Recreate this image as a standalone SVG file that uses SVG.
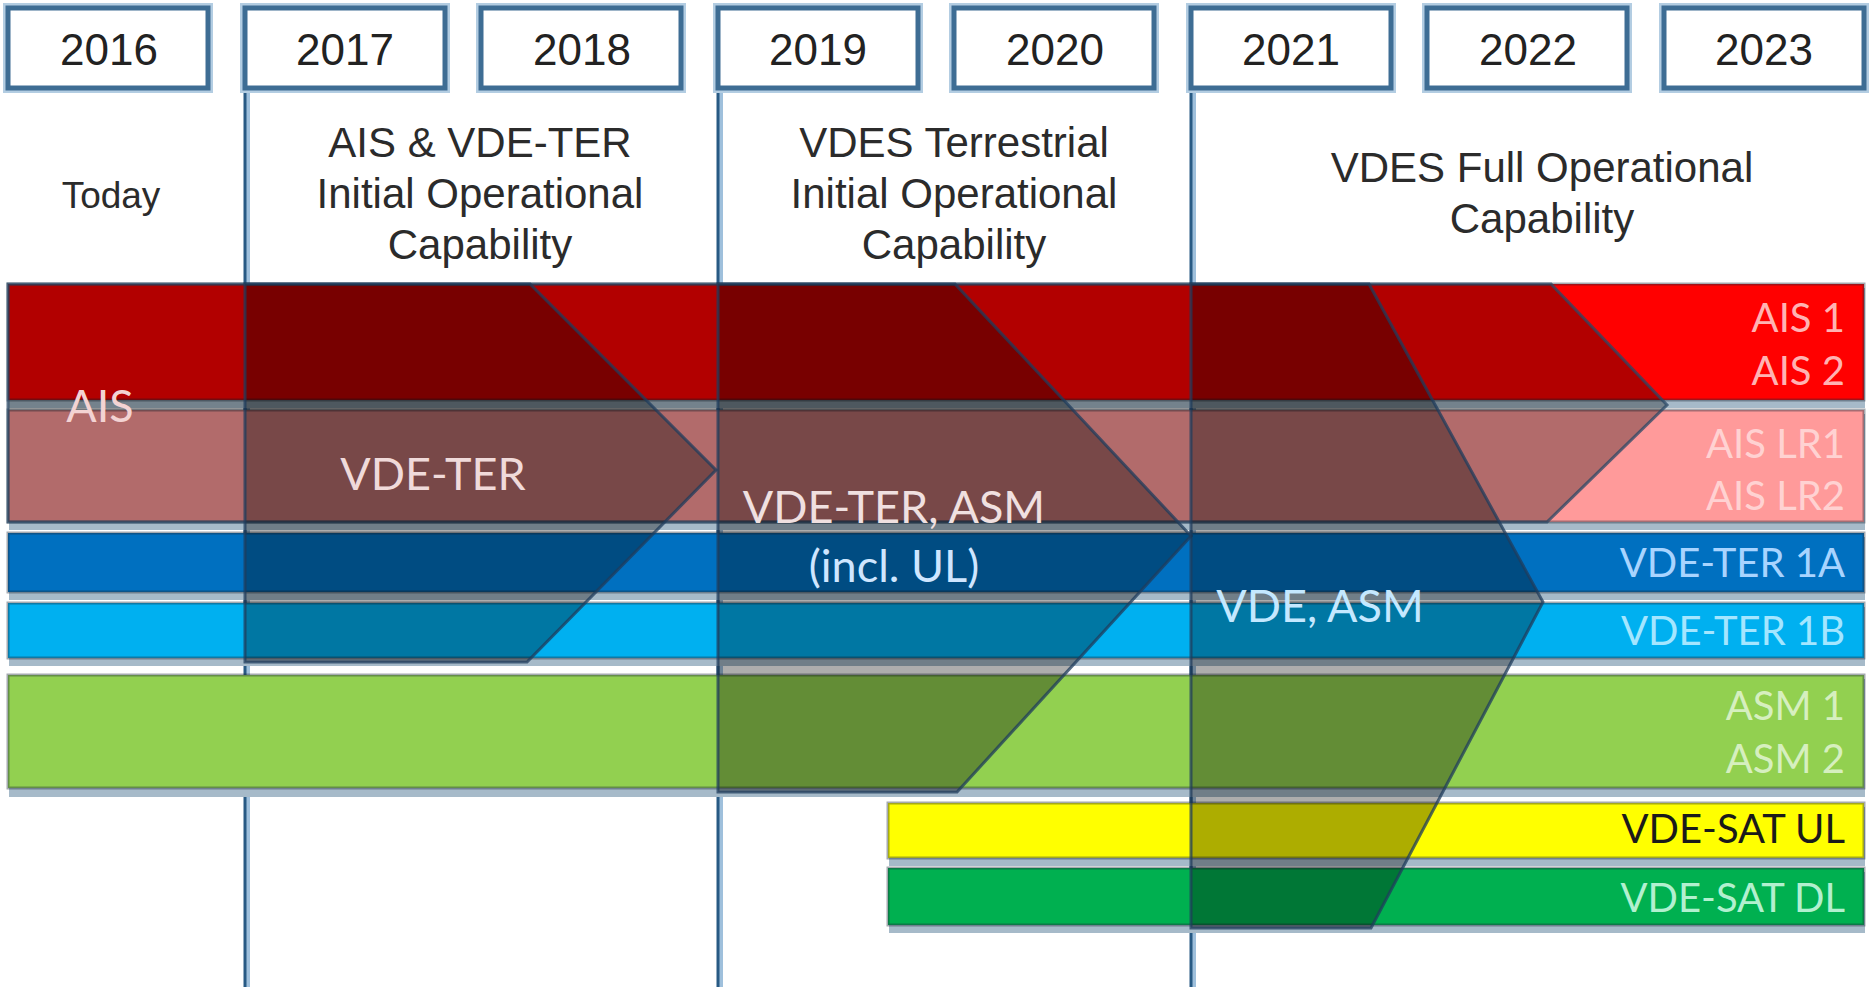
<svg xmlns="http://www.w3.org/2000/svg" width="1870" height="987" viewBox="0 0 1870 987">
  <style>
    .yearbox-halo { fill: none; stroke: #b3cde2; stroke-width: 10; }
    .yearbox { fill: #ffffff; stroke: #3e6d94; stroke-width: 5; }
    .year { font-family: "Liberation Sans", Arial, sans-serif; font-size: 44px; fill: #222222; text-anchor: middle; }
    .phase { font-family: "Liberation Sans", Arial, sans-serif; font-size: 42px; fill: #2b2b2b; text-anchor: middle; }
    .shadow { fill: #a6bac9; }
    .band { stroke: #1e2a3a; stroke-opacity: 0.4; stroke-width: 3; }
    .ais-zone { fill: #000000; fill-opacity: 0.3; stroke: #2a4866; stroke-opacity: 0.75; stroke-width: 3; }
    .chevron { fill: #000000; fill-opacity: 0.32; stroke: #1f3c5c; stroke-opacity: 0.75; stroke-width: 3; }
    .vline-hi { stroke: #9fc0dc; stroke-width: 6; }
    .vline { stroke: #285a84; stroke-width: 3; }
    .stage { font-family: Lato, "Noto Sans", sans-serif; font-size: 45px; text-anchor: middle; }
    .lane { font-family: Lato, "Noto Sans", sans-serif; font-size: 40px; text-anchor: end; }
  </style>

  <rect width="1870" height="987" fill="#ffffff"/>

  <!-- phase boundary lines (behind the lanes) -->
  <g id="boundaries">
    <line class="vline-hi" x1="247" y1="90" x2="247" y2="987"/>
    <line class="vline" x1="245" y1="90" x2="245" y2="987"/>
    <line class="vline-hi" x1="720" y1="90" x2="720" y2="987"/>
    <line class="vline" x1="718" y1="90" x2="718" y2="987"/>
    <line class="vline-hi" x1="1193" y1="90" x2="1193" y2="987"/>
    <line class="vline" x1="1191" y1="90" x2="1191" y2="987"/>
  </g>

  <!-- year header -->
  <g id="years">
    <g id="y2016"><rect class="yearbox-halo" x="8" y="8" width="200" height="80"/><rect class="yearbox" x="8" y="8" width="200" height="80"/><text class="year" x="109" y="65">2016</text></g>
    <g id="y2017"><rect class="yearbox-halo" x="245" y="8" width="200" height="80"/><rect class="yearbox" x="245" y="8" width="200" height="80"/><text class="year" x="345" y="65">2017</text></g>
    <g id="y2018"><rect class="yearbox-halo" x="481" y="8" width="200" height="80"/><rect class="yearbox" x="481" y="8" width="200" height="80"/><text class="year" x="582" y="65">2018</text></g>
    <g id="y2019"><rect class="yearbox-halo" x="718" y="8" width="200" height="80"/><rect class="yearbox" x="718" y="8" width="200" height="80"/><text class="year" x="818" y="65">2019</text></g>
    <g id="y2020"><rect class="yearbox-halo" x="954" y="8" width="200" height="80"/><rect class="yearbox" x="954" y="8" width="200" height="80"/><text class="year" x="1055" y="65">2020</text></g>
    <g id="y2021"><rect class="yearbox-halo" x="1191" y="8" width="200" height="80"/><rect class="yearbox" x="1191" y="8" width="200" height="80"/><text class="year" x="1291" y="65">2021</text></g>
    <g id="y2022"><rect class="yearbox-halo" x="1427" y="8" width="200" height="80"/><rect class="yearbox" x="1427" y="8" width="200" height="80"/><text class="year" x="1528" y="65">2022</text></g>
    <g id="y2023"><rect class="yearbox-halo" x="1664" y="8" width="200" height="80"/><rect class="yearbox" x="1664" y="8" width="200" height="80"/><text class="year" x="1764" y="65">2023</text></g>
  </g>

  <!-- phase titles -->
  <g id="phases">
    <text class="phase" x="111" y="208" style="font-size:37px">Today</text>
    <text class="phase" x="480" y="157">AIS &amp; VDE-TER</text>
    <text class="phase" x="480" y="208">Initial  Operational</text>
    <text class="phase" x="480" y="259">Capability</text>
    <text class="phase" x="954" y="157">VDES Terrestrial</text>
    <text class="phase" x="954" y="208">Initial  Operational</text>
    <text class="phase" x="954" y="259">Capability</text>
    <text class="phase" x="1542" y="182">VDES Full Operational</text>
    <text class="phase" x="1542" y="233">Capability</text>
  </g>

  <!-- channel lanes -->
  <g id="lanes">
    <rect class="shadow" x="9" y="288" width="1856" height="120"/>
    <rect class="shadow" x="9" y="414" width="1856" height="116"/>
    <rect class="shadow" x="9" y="537" width="1856" height="63"/>
    <rect class="shadow" x="9" y="607" width="1856" height="59"/>
    <rect class="shadow" x="9" y="679" width="1856" height="118"/>
    <rect class="shadow" x="889" y="807" width="976" height="59"/>
    <rect class="shadow" x="889" y="872" width="976" height="61"/>
    <rect id="lane-ais" class="band" x="8" y="284" width="1856" height="116" fill="#ff0000"/>
    <rect id="lane-aislr" class="band" x="8" y="410" width="1856" height="112" fill="#ff9a9a"/>
    <rect id="lane-vdeter1a" class="band" x="8" y="533" width="1856" height="59" fill="#0070c0"/>
    <rect id="lane-vdeter1b" class="band" x="8" y="603" width="1856" height="55" fill="#00b0f0"/>
    <rect id="lane-asm" class="band" x="8" y="675" width="1856" height="113" fill="#92d050"/>
    <rect id="lane-satul" class="band" x="888" y="803" width="976" height="55" fill="#ffff00"/>
    <rect id="lane-satdl" class="band" x="888" y="868" width="976" height="57" fill="#00b050"/>
  </g>

  <!-- stage arrows -->
  <g id="stages">
    <polygon id="stage-ais" class="ais-zone" points="8,284 1551,284 1667,405 1547,522 8,522"/>
    <polygon id="stage-vdeter" class="chevron" points="245,284 530,284 716,470 527,662 245,662"/>
    <polygon id="stage-vdeter-asm" class="chevron" points="718,284 955,284 1191,536 957,792 718,792"/>
    <polygon id="stage-vde-asm" class="chevron" points="1191,284 1369,284 1543,602 1371,928 1191,928"/>
  </g>

  <!-- stage labels -->
  <g id="stage-labels">
    <text class="stage" x="100" y="422" fill="#f3d3d3">AIS</text>
    <text class="stage" x="433" y="490" fill="#f0dada">VDE-TER</text>
    <text class="stage" x="894" y="523" fill="#f0e0e0">VDE-TER, ASM</text>
    <text class="stage" x="894" y="582" fill="#cfe6ff">(incl. UL)</text>
    <text class="stage" x="1320" y="622" fill="#c4e8ff">VDE, ASM</text>
  </g>

  <!-- channel labels -->
  <g id="lane-labels">
    <text class="lane" x="1845" y="332" fill="#ffb3b3">AIS 1</text>
    <text class="lane" x="1845" y="385" fill="#ffb3b3">AIS 2</text>
    <text class="lane" x="1845" y="458" fill="#ffd2d2">AIS LR1</text>
    <text class="lane" x="1845" y="510" fill="#ffd2d2">AIS LR2</text>
    <text class="lane" x="1845" y="577" fill="#a8d4ff">VDE-TER 1A</text>
    <text class="lane" x="1845" y="645" fill="#a4e6ff">VDE-TER 1B</text>
    <text class="lane" x="1845" y="720" fill="#d6efbf">ASM 1</text>
    <text class="lane" x="1845" y="773" fill="#d6efbf">ASM 2</text>
    <text class="lane" x="1845" y="843" fill="#1a1a1a">VDE-SAT UL</text>
    <text class="lane" x="1845" y="912" fill="#b2f0cf">VDE-SAT DL</text>
  </g>
</svg>
